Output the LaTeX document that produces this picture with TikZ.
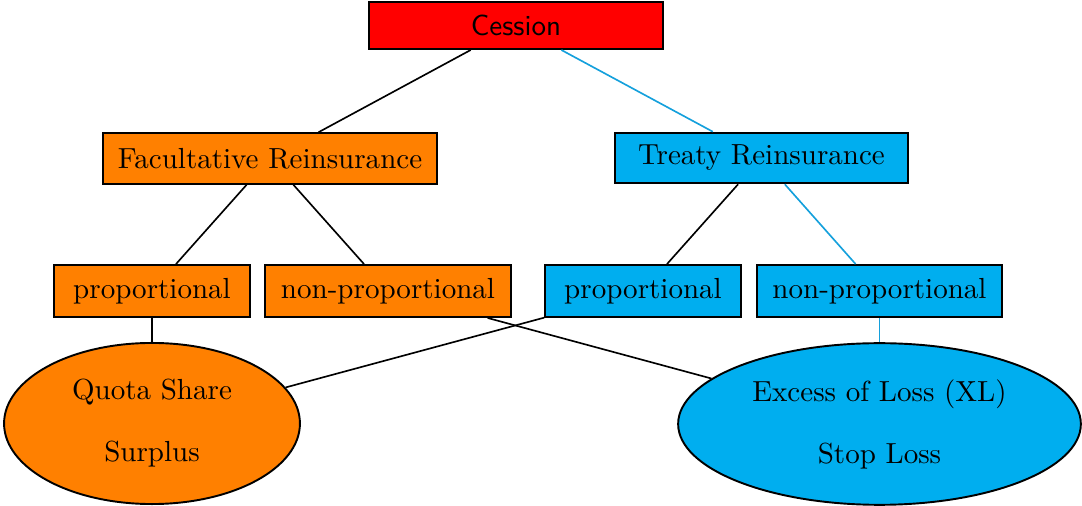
\documentclass[tikz,border=0pt]{standalone}
\usetikzlibrary{shapes.geometric}
\definecolor{treatyblue}{RGB}{0,174,239}
\definecolor{linkblue}{RGB}{20,160,220}
\definecolor{facorange}{RGB}{255,128,0}
\begin{document}
\begin{tikzpicture}[x=0.365pt,y=-0.365pt,
  every node/.style={font=\fontsize{10.6}{12.7}\selectfont},
  cessionbox/.style={draw,line width=0.7pt,fill=red,minimum width=107.3pt,minimum height=17.2pt,inner sep=0pt},
  facbox/.style={draw,line width=0.7pt,fill=facorange,minimum height=18.5pt,inner sep=0pt},
  treatybox/.style={draw,line width=0.7pt,fill=treatyblue,minimum height=18.5pt,inner sep=0pt},
  facell/.style={ellipse,draw,line width=0.7pt,fill=facorange,align=center,inner sep=0pt},
  treatyell/.style={ellipse,draw,line width=0.7pt,fill=treatyblue,align=center,inner sep=0pt},
  link/.style={line width=0.6pt},
  bluelink/.style={line width=0.6pt,draw=linkblue}]
\useasboundingbox (0,0) rectangle (1082,506);
% top
\node[cessionbox] (cession) at (516,25.5) {\sffamily Cession};
% second level
\node[facbox,minimum width=121.9pt] (fac) at (270,158.5) {Facultative Reinsurance};
\node[treatybox,minimum width=107pt] (treaty) at (761.5,158) {Treaty Reinsurance};
% third level
\node[facbox,minimum width=71.5pt,minimum height=19pt] (facprop) at (152,291) {proportional};
\node[facbox,minimum width=89.8pt,minimum height=19pt] (facnonprop) at (388,291) {non-proportional};
\node[treatybox,minimum width=71.5pt,minimum height=19pt] (treatyprop) at (643,291) {proportional};
\node[treatybox,minimum width=89.4pt,minimum height=19pt] (treatynonprop) at (879.5,291) {non-proportional};
% bottom
\node[facell,minimum width=108pt,minimum height=58.8pt] (quota) at (152,423.5) {Quota Share\\[9.9pt]Surplus};
\node[treatyell,minimum width=147pt,minimum height=59pt] (xl) at (879.5,424) {Excess of Loss (XL)\\[9.9pt]Stop Loss};
% links
\draw[link] (cession) -- (fac);
\draw[bluelink] (cession) -- (treaty);
\draw[link] (fac) -- (facprop);
\draw[link] (fac) -- (facnonprop);
\draw[link] (treaty) -- (treatyprop);
\draw[bluelink] (treaty) -- (treatynonprop);
\draw[link] (facprop) -- (quota);
\draw[link] (facnonprop) -- (xl);
\draw[link] (treatyprop) -- (quota);
\draw[bluelink] (treatynonprop) -- (xl);
\end{tikzpicture}
\end{document}
